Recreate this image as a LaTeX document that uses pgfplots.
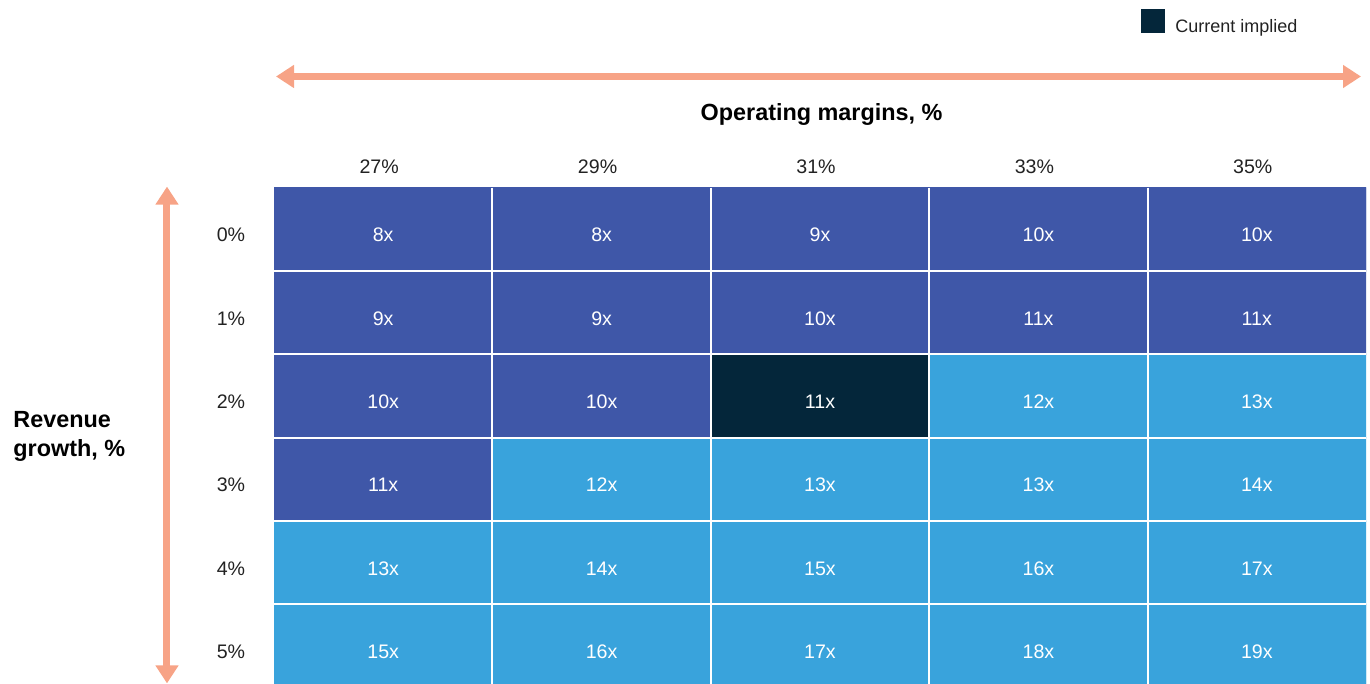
\documentclass[border=0pt]{standalone}
\usepackage{pgfplots}
\pgfplotsset{compat=1.18}
\usepackage{pgfplotstable}
\usepackage{fontspec}
\setmainfont{Liberation Sans}
\usetikzlibrary{arrows.meta}
\definecolor{darkblue}{RGB}{63,87,168}
\definecolor{lightblue}{RGB}{57,163,220}
\definecolor{navy}{RGB}{4,38,58}
\definecolor{salmon}{RGB}{247,163,134}
\definecolor{txt}{RGB}{34,34,34}

% x = margin column, y = growth row, c = colour class (0 dark, 1 current, 2 light), m = multiple
\pgfplotstableread{
x y c m
0 0 0 8
1 0 0 8
2 0 0 9
3 0 0 10
4 0 0 10
0 1 0 9
1 1 0 9
2 1 0 10
3 1 0 11
4 1 0 11
0 2 0 10
1 2 0 10
2 2 1 11
3 2 2 12
4 2 2 13
0 3 0 11
1 3 2 12
2 3 2 13
3 3 2 13
4 3 2 14
0 4 2 13
1 4 2 14
2 4 2 15
3 4 2 16
4 4 2 17
0 5 2 15
1 5 2 16
2 5 2 17
3 5 2 18
4 5 2 19
}\cells

\begin{document}
\begin{tikzpicture}
\useasboundingbox (-137pt,0pt) rectangle (548pt,342pt);
\begin{axis}[
  at={(0pt,-1.8pt)}, anchor=south west,
  scale only axis, width=546pt, height=250pt,
  xmin=-0.5, xmax=4.5, ymin=-0.5, ymax=5.5, y dir=reverse,
  enlargelimits=false,
  /pgf/number format/assume math mode=true,
  axis line style={draw=none},
  major tick length=0pt, minor tick length=0pt,
  xtick={0,1,2,3,4}, xticklabels={27\%,29\%,31\%,33\%,35\%},
  ytick={0,1,2,3,4,5}, yticklabels={0\%,1\%,2\%,3\%,4\%,5\%},
  xticklabel pos=upper,
  xticklabel style={anchor=base, yshift=6.9pt, xshift=-2pt, font=\fontsize{9.8}{11}\selectfont, text=txt},
  yticklabel style={anchor=base, xshift=-21.5pt, yshift=-6.25pt, font=\fontsize{9.8}{11}\selectfont, text=txt},
  minor xtick={0.5,1.5,2.5,3.5}, minor ytick={0.5,1.5,2.5,3.5,4.5},
  xminorgrids, yminorgrids, minor grid style={white, line width=1pt},
  axis on top,
  colormap={cats}{rgb255=(63,87,168) rgb255=(4,38,58) rgb255=(57,163,220)},
  colormap access=direct,
]
\addplot[matrix plot*, mesh/cols=5, mesh/rows=6, point meta=explicit]
  table[x=x, y=y, meta=c] {\cells};
\addplot[draw=none, mark=none, point meta=\thisrow{m},
  nodes near coords={\pgfmathprintnumber[assume math mode=true]{\pgfplotspointmeta}x},
  nodes near coords style={anchor=base, yshift=-6.25pt, font=\fontsize{9.8}{11}\selectfont, text=white}]
  table[x=x, y=y] {\cells};
\end{axis}
\draw[salmon, line width=3.5pt, {Triangle[length=9pt,width=11pt]}-{Triangle[length=9pt,width=11pt]}]
  (1pt,303.75pt) -- (543.5pt,303.75pt);
\draw[salmon, line width=3.5pt, {Triangle[length=9pt,width=11pt]}-{Triangle[length=9pt,width=11pt]}]
  (-53.5pt,0.3pt) -- (-53.5pt,248.7pt);
\node[anchor=base, inner sep=0pt, font=\bfseries\fontsize{11.7}{13}\selectfont, text=black] at (273.8pt,281.5pt) {Operating margins, \%};
\node[anchor=base west, inner sep=0pt, font=\bfseries\fontsize{11.7}{13}\selectfont, text=black] at (-130.5pt,128.3pt) {Revenue};
\node[anchor=base west, inner sep=0pt, font=\bfseries\fontsize{11.7}{13}\selectfont, text=black] at (-130.5pt,113.7pt) {growth, \%};
\fill[navy] (433.5pt,325.5pt) rectangle (445.5pt,337.5pt);
\node[anchor=base west, inner sep=0pt, font=\fontsize{9}{11}\selectfont, text=txt] at (450.5pt,325.5pt) {Current implied};
\end{tikzpicture}
\end{document}
